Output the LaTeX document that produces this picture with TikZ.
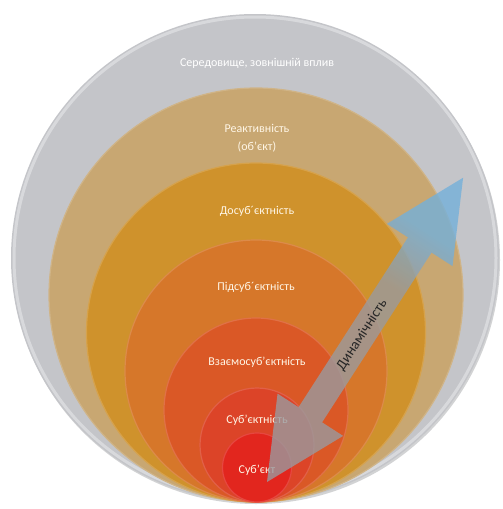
\documentclass[tikz,border=0pt]{standalone}
\usepackage{fontspec}
\setmainfont{Carlito}
\definecolor{cgray}{HTML}{C4C5C9}
\definecolor{cgrayrim}{HTML}{D8D9DC}
\definecolor{ctan}{HTML}{C8A772}
\definecolor{cyel}{HTML}{CF922C}
\definecolor{corg}{HTML}{D6772A}
\definecolor{cred}{HTML}{DA5826}
\definecolor{cred2}{HTML}{DC4428}
\definecolor{cred3}{HTML}{E2261E}
\definecolor{agray}{HTML}{9A9A9E}
\definecolor{ablue}{HTML}{74B0DA}
\definecolor{ltext}{HTML}{FFF6E6}
\pgfdeclarehorizontalshading{dynshade}{100bp}{color(0bp)=(agray); color(57bp)=(agray); color(66bp)=(ablue); color(100bp)=(ablue)}
\begin{document}
\begin{tikzpicture}[x=1pt,y=-1pt,
  lbl/.style={text=ltext, font=\fontsize{12}{14}\selectfont, inner sep=0pt},
  disc/.style={fill=#1, draw=#1!85!white, line width=1.2pt}]
\useasboundingbox (0,0) rectangle (503,509);
\fill[white] (0,0) rectangle (503,509);
% nested circles
\fill[cgray!85!black, opacity=0.5] (256,260) circle[radius=244];
\fill[cgray] (255,258) circle[radius=244];
\draw[cgrayrim, line width=3pt] (255,258) circle[radius=241];
\fill[disc=ctan] (256,295) circle[radius=207];
\fill[disc=cyel] (256,332.5) circle[radius=169.5];
\fill[disc=corg] (256,371) circle[radius=131];
\fill[disc=cred] (256,410) circle[radius=92];
\fill[disc=cred2] (257,445) circle[radius=57];
\fill[disc=cred3] (257,467.5) circle[radius=34.5];
% labels
\node[lbl, text=white] (env) at (257,63) {Середовище, зовнішній вплив};
\node[lbl] (react) at (257,128) {Реактивність};
\node[lbl] (obj) at (257,147) {(об'єкт)};
\node[lbl] (dos) at (257,211) {Досуб´єктність};
\node[lbl] (pid) at (256,287) {Підсуб´єктність};
\node[lbl] (vz) at (257,362) {Взаємосуб'єктність};
\node[lbl] (sn) at (257,420) {Суб'єктність};
\node[lbl] (s) at (257,470) {Суб'єкт};
% arrow
\begin{scope}[transform canvas={shift={(267,482)}, rotate=57.2}]
  \shade[shading=dynshade, opacity=0.8] (0,0) -- (80,39) -- (80,14) -- (282,14) -- (282,39) -- (362,0) -- (282,-39) -- (282,-14) -- (80,-14) -- (80,-39) -- cycle;
\end{scope}
\node[rotate=57.2, text={black!85}, font=\fontsize{14.5}{16}\selectfont, inner sep=0pt] (dyn) at (362,335) {Динамічність};
\end{tikzpicture}
\end{document}
